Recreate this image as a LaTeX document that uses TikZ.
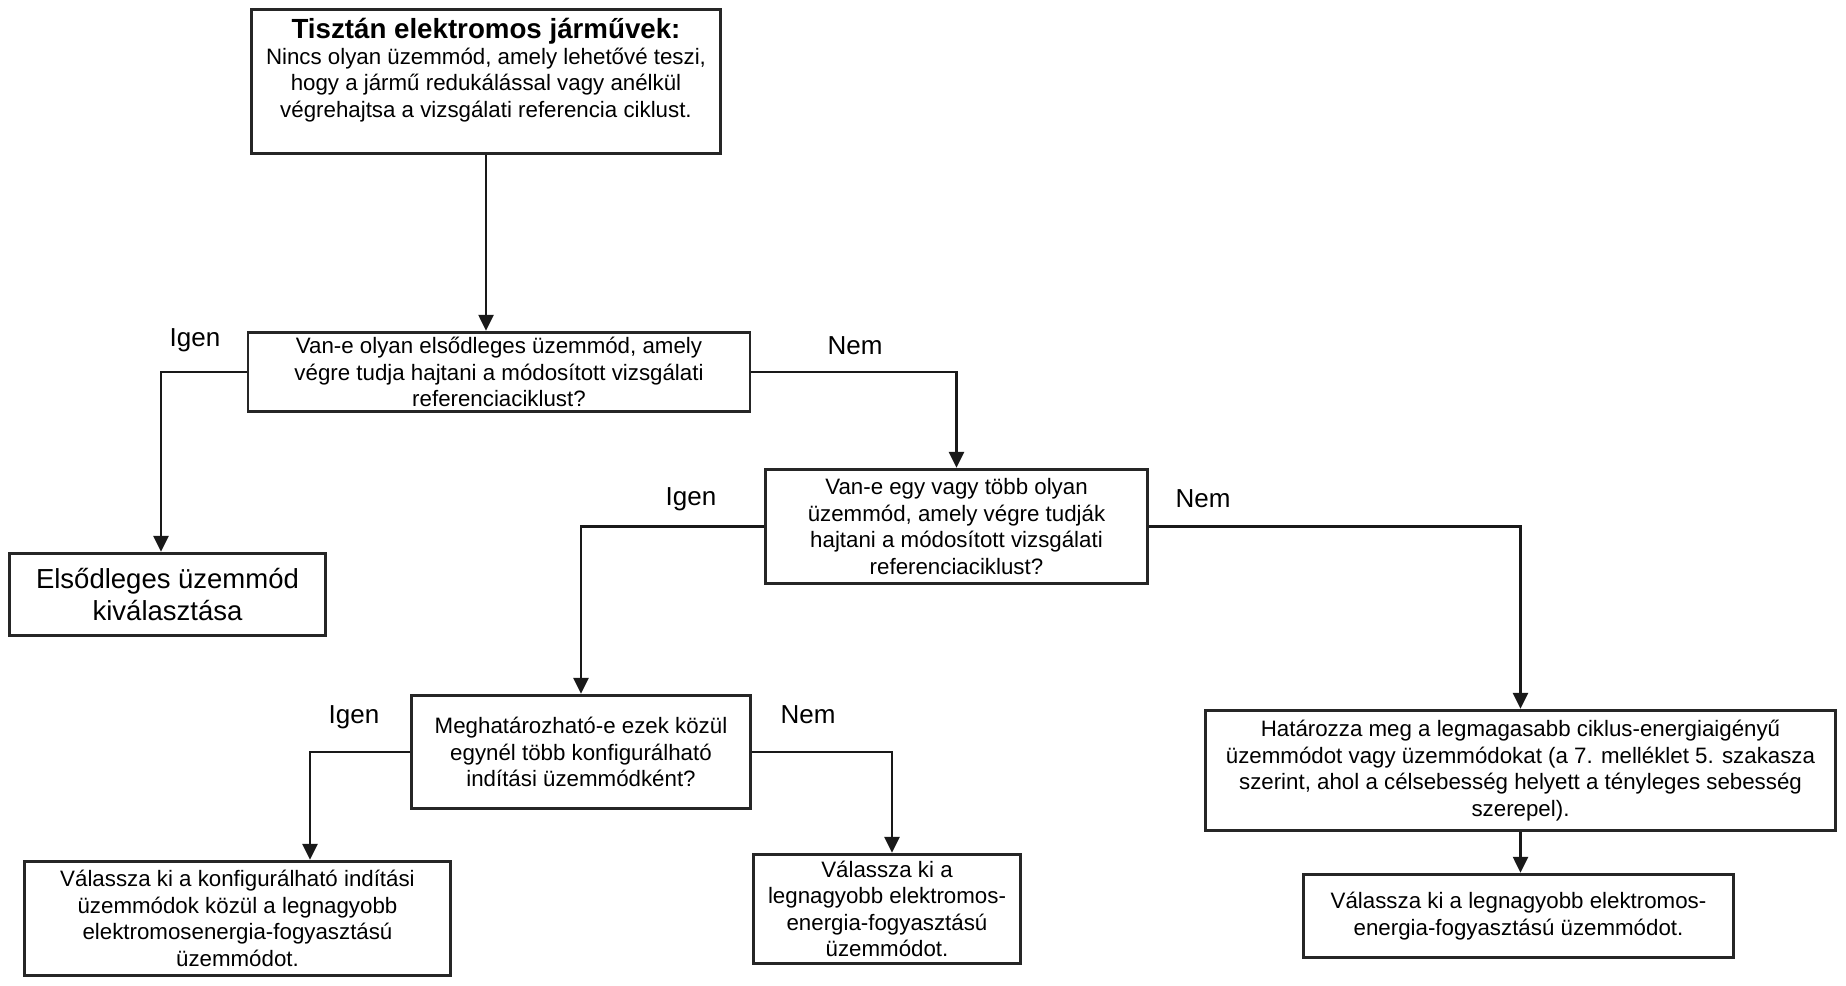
\documentclass[tikz,border=0pt]{standalone}
\usepackage{fontspec}
\setmainfont{Liberation Sans}
\usetikzlibrary{arrows.meta,positioning}
\begin{document}
\begin{tikzpicture}[x=1bp,y=-1bp,
  box/.style={draw=black!85, line width=2.8bp, fill=white, inner sep=0pt, align=center,
    font=\fontsize{22.3bp}{26.5bp}\selectfont},
  txt/.style={inner sep=0pt, align=center, font=\fontsize{22.3bp}{26.5bp}\selectfont},
  lbl/.style={inner sep=0pt, font=\fontsize{26bp}{30bp}\selectfont},
  arr/.style={draw=black!90, line width=2.6bp, -{Triangle[length=16bp,width=15bp]}},
  ln/.style={draw=black!90, line width=2.6bp}]
\useasboundingbox (0,0) rectangle (1846,985);
\fill[white] (0,0) rectangle (1846,985);

% boxes
\node[box, minimum width=470, minimum height=145] (top) at (486,81.5) {};
\node[inner sep=0pt, font=\fontsize{27.7bp}{32bp}\selectfont\bfseries] (toptitle) at (486,31) {Tisztán elektromos járművek:};
\node[txt] (topbody) at (486,85) {Nincs olyan üzemmód, amely lehetővé teszi,\\ hogy a jármű redukálással vagy anélkül\\ végrehajtsa a vizsgálati referencia ciklust.};

\node[box, minimum width=504, minimum height=80] (q1) at (499,372)
  {Van-e olyan elsődleges üzemmód, amely\\ végre tudja hajtani a módosított vizsgálati\\ referenciaciklust?};
\node[box, minimum width=383, minimum height=115] (q2) at (956.5,526.5)
  {Van-e egy vagy több olyan\\ üzemmód, amely végre tudják\\ hajtani a módosított vizsgálati\\ referenciaciklust?};
\node[box, minimum width=317, minimum height=83, font=\fontsize{27.5bp}{32bp}\selectfont] (prim) at (167.5,594.5)
  {Elsődleges üzemmód\\ kiválasztása};
\node[box, minimum width=340, minimum height=114] (q3) at (581,752)
  {Meghatározható-e ezek közül\\ egynél több konfigurálható\\ indítási üzemmódként?};
\node[box, minimum width=427, minimum height=115] (r1) at (237.5,918.5)
  {Válassza ki a konfigurálható indítási\\ üzemmódok közül a legnagyobb\\ elektromosenergia-fogyasztású\\ üzemmódot.};
\node[box, minimum width=268, minimum height=110] (r2) at (887,909)
  {Válassza ki a\\ legnagyobb elektromos-\\ energia-fogyasztású\\ üzemmódot.};
\node[box, minimum width=633, minimum height=121] (q4) at (1520.5,770.5)
  {Határozza meg a legmagasabb ciklus-energiaigényű\\ üzemmódot vagy üzemmódokat (a 7. melléklet 5. szakasza\\ szerint, ahol a célsebesség helyett a tényleges sebesség\\ szerepel).};
\node[box, minimum width=431, minimum height=84] (r3) at (1518.5,916)
  {Válassza ki a legnagyobb elektromos-\\ energia-fogyasztású üzemmódot.};

% connectors
\draw[arr] (top.south) -- (top.south |- q1.north);
\draw[arr] (q1.west) -| ([xshift=-6.5bp]prim.north);
\draw[arr] (q1.east) -| (q2.north);
\draw[arr] (q2.west) -| (q3.north);
\draw[arr] (q2.east) -| (q4.north);
\draw[arr] (q3.west) -| ([xshift=72.5bp]r1.north);
\draw[arr] (q3.east) -| ([xshift=5bp]r2.north);
\draw[arr] (q4.south) -- (q4.south |- r3.north);

% labels
\node[lbl] (l1) at (195,340) {Igen};
\node[lbl] (l2) at (855,346) {Nem};
\node[lbl] (l3) at (691,499) {Igen};
\node[lbl] (l4) at (1203,499) {Nem};
\node[lbl] (l5) at (354,717) {Igen};
\node[lbl] (l6) at (808,715) {Nem};
\end{tikzpicture}
\end{document}
